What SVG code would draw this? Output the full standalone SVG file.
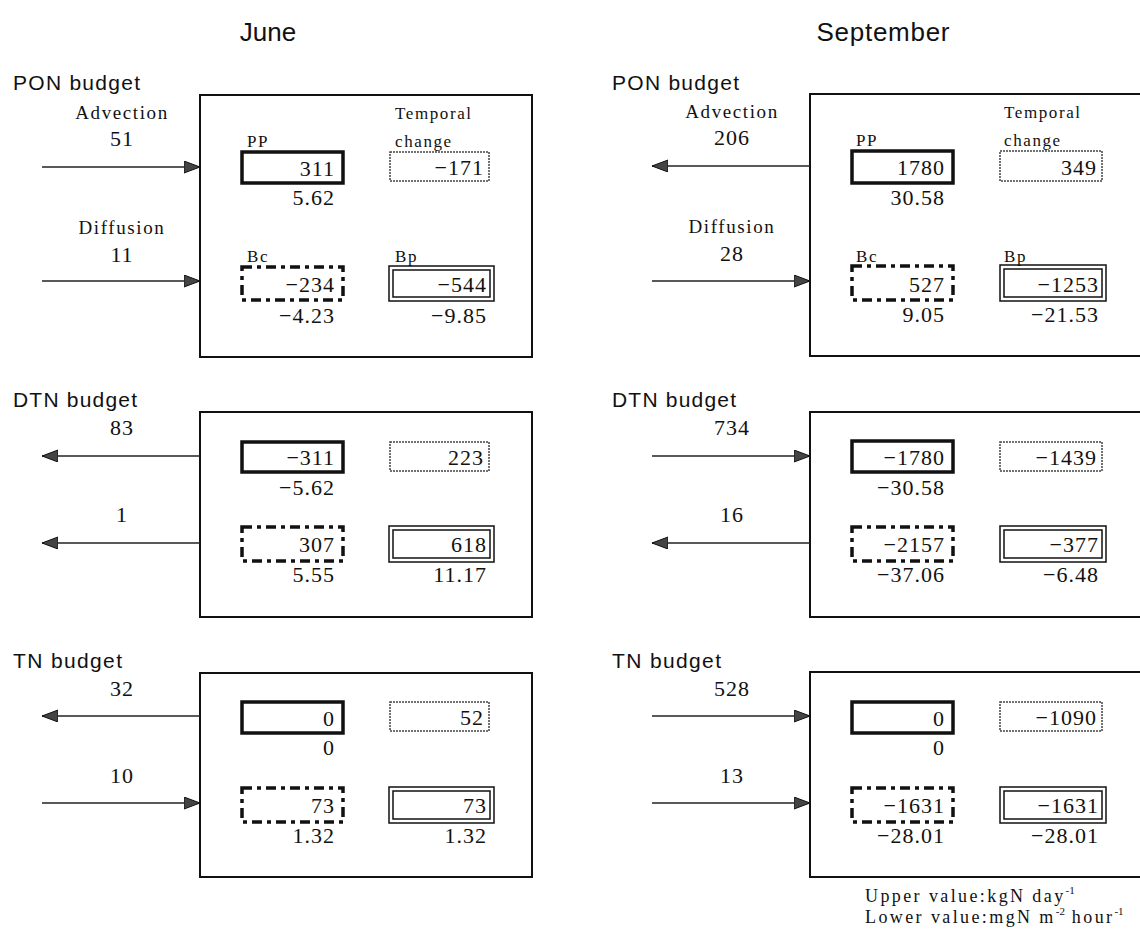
<svg xmlns="http://www.w3.org/2000/svg" width="1140" height="932" viewBox="0 0 1140 932">
<defs>
<marker id="ah" markerUnits="userSpaceOnUse" markerWidth="18" markerHeight="14" refX="16" refY="6" orient="auto">
<path d="M0,0 L16,6 L0,12 z" fill="#444" stroke="#111" stroke-width="1"/>
</marker>
<style>
.ttl{font-family:"Liberation Sans",Arial,sans-serif;font-size:26px;fill:#111}
.sec{font-family:"Liberation Sans",Arial,sans-serif;font-size:21px;fill:#111}
.lbl{font-family:"Liberation Serif","Times New Roman",serif;font-size:19px;letter-spacing:1.6px;fill:#111}
.sm{font-family:"Liberation Serif","Times New Roman",serif;font-size:17px;letter-spacing:1.6px;fill:#111}
.num{font-family:"Liberation Serif","Times New Roman",serif;font-size:22px;letter-spacing:1px;fill:#111}
.leg{font-family:"Liberation Serif","Times New Roman",serif;font-size:18px;letter-spacing:2.4px;fill:#111}
.sup{font-size:11px;letter-spacing:0}
.r{text-anchor:end}
.c{text-anchor:middle}
.panel{fill:none;stroke:#111;stroke-width:2}
.pp{fill:none;stroke:#111;stroke-width:3.5}
.tc{fill:none;stroke:#444;stroke-width:1.5;stroke-dasharray:2 1}
.bc{fill:none;stroke:#111;stroke-width:3.5;stroke-dasharray:10 5 4 5}
.bp{fill:none;stroke:#111;stroke-width:1.5}
.flow{fill:none;stroke:#222;stroke-width:1.6;marker-end:url(#ah)}
</style>
</defs>
<rect width="1140" height="932" fill="#fff"/>

<text class="ttl c" x="268" y="41">June</text>
<text class="ttl c" x="883" y="41" textLength="133" lengthAdjust="spacing">September</text>

<!-- June PON -->
<g id="june-pon">
<text class="sec" x="13" y="90" textLength="127" lengthAdjust="spacing">PON budget</text>
<rect class="panel" x="200" y="95" width="332" height="262"/>
<text class="lbl c" x="122" y="119">Advection</text>
<text class="num c" x="122" y="146">51</text>
<text class="lbl c" x="122" y="234">Diffusion</text>
<text class="num c" x="122" y="262">11</text>
<text class="sm" x="247" y="147">PP</text>
<text class="sm" x="395" y="119">Temporal</text>
<text class="sm" x="395" y="147">change</text>
<rect class="pp" x="242" y="152" width="101" height="31"/>
<text class="num r" x="335" y="176">311</text>
<text class="num r" x="335" y="205">5.62</text>
<rect class="tc" x="390" y="152" width="99" height="29"/>
<text class="num r" x="484" y="175">−171</text>
<text class="sm" x="247" y="262">Bc</text>
<text class="sm" x="395" y="262">Bp</text>
<rect class="bc" x="242" y="267" width="101" height="33"/>
<text class="num r" x="335" y="292">−234</text>
<text class="num r" x="335" y="323">−4.23</text>
<rect class="bp" x="389" y="266" width="105" height="35"/>
<rect class="bp" x="393" y="270" width="97" height="27"/>
<text class="num r" x="487" y="292">−544</text>
<text class="num r" x="487" y="323">−9.85</text>
</g>

<!-- June DTN -->
<g id="june-dtn">
<text class="sec" x="13" y="407" textLength="124" lengthAdjust="spacing">DTN budget</text>
<rect class="panel" x="200" y="412" width="332" height="205"/>
<text class="num c" x="122" y="435">83</text>
<text class="num c" x="122" y="522">1</text>
<rect class="pp" x="242" y="442" width="101" height="30"/>
<text class="num r" x="335" y="465">−311</text>
<text class="num r" x="335" y="495">−5.62</text>
<rect class="tc" x="390" y="442" width="99" height="29"/>
<text class="num r" x="484" y="465">223</text>
<rect class="bc" x="242" y="527" width="101" height="34"/>
<text class="num r" x="335" y="552">307</text>
<text class="num r" x="335" y="582">5.55</text>
<rect class="bp" x="389" y="526" width="105" height="36"/>
<rect class="bp" x="393" y="530" width="97" height="28"/>
<text class="num r" x="487" y="552">618</text>
<text class="num r" x="487" y="582">11.17</text>
</g>

<!-- June TN -->
<g id="june-tn">
<text class="sec" x="13" y="668" textLength="109" lengthAdjust="spacing">TN budget</text>
<rect class="panel" x="200" y="673" width="332" height="204"/>
<text class="num c" x="122" y="696">32</text>
<text class="num c" x="122" y="783">10</text>
<rect class="pp" x="242" y="702" width="101" height="31"/>
<text class="num r" x="335" y="726">0</text>
<text class="num r" x="335" y="755">0</text>
<rect class="tc" x="390" y="702" width="99" height="29"/>
<text class="num r" x="484" y="725">52</text>
<rect class="bc" x="242" y="788" width="101" height="34"/>
<text class="num r" x="335" y="813">73</text>
<text class="num r" x="335" y="843">1.32</text>
<rect class="bp" x="389" y="787" width="105" height="36"/>
<rect class="bp" x="393" y="791" width="97" height="28"/>
<text class="num r" x="487" y="813">73</text>
<text class="num r" x="487" y="843">1.32</text>
</g>

<!-- September PON -->
<g id="sep-pon">
<text class="sec" x="612" y="90" textLength="127" lengthAdjust="spacing">PON budget</text>
<rect class="panel" x="810" y="94" width="345" height="262"/>
<text class="lbl c" x="732" y="118">Advection</text>
<text class="num c" x="732" y="145">206</text>
<text class="lbl c" x="732" y="233">Diffusion</text>
<text class="num c" x="732" y="261">28</text>
<text class="sm" x="856" y="146">PP</text>
<text class="sm" x="1004" y="118">Temporal</text>
<text class="sm" x="1004" y="146">change</text>
<rect class="pp" x="852" y="151" width="101" height="32"/>
<text class="num r" x="945" y="175">1780</text>
<text class="num r" x="945" y="205">30.58</text>
<rect class="tc" x="1000" y="151" width="102" height="30"/>
<text class="num r" x="1097" y="175">349</text>
<text class="sm" x="856" y="262">Bc</text>
<text class="sm" x="1004" y="262">Bp</text>
<rect class="bc" x="852" y="266" width="101" height="34"/>
<text class="num r" x="945" y="292">527</text>
<text class="num r" x="945" y="322">9.05</text>
<rect class="bp" x="1000" y="265" width="106" height="36"/>
<rect class="bp" x="1004" y="269" width="98" height="28"/>
<text class="num r" x="1099" y="292">−1253</text>
<text class="num r" x="1099" y="322">−21.53</text>
</g>

<!-- September DTN -->
<g id="sep-dtn">
<text class="sec" x="612" y="407" textLength="124" lengthAdjust="spacing">DTN budget</text>
<rect class="panel" x="810" y="412" width="345" height="205"/>
<text class="num c" x="732" y="435">734</text>
<text class="num c" x="732" y="522">16</text>
<rect class="pp" x="852" y="441" width="101" height="31"/>
<text class="num r" x="945" y="465">−1780</text>
<text class="num r" x="945" y="495">−30.58</text>
<rect class="tc" x="1000" y="442" width="102" height="29"/>
<text class="num r" x="1097" y="465">−1439</text>
<rect class="bc" x="852" y="527" width="101" height="34"/>
<text class="num r" x="945" y="552">−2157</text>
<text class="num r" x="945" y="582">−37.06</text>
<rect class="bp" x="1000" y="526" width="106" height="36"/>
<rect class="bp" x="1004" y="530" width="98" height="28"/>
<text class="num r" x="1099" y="552">−377</text>
<text class="num r" x="1099" y="582">−6.48</text>
</g>

<!-- September TN -->
<g id="sep-tn">
<text class="sec" x="612" y="668" textLength="109" lengthAdjust="spacing">TN budget</text>
<rect class="panel" x="810" y="672" width="345" height="205"/>
<text class="num c" x="732" y="696">528</text>
<text class="num c" x="732" y="783">13</text>
<rect class="pp" x="852" y="702" width="101" height="31"/>
<text class="num r" x="945" y="726">0</text>
<text class="num r" x="945" y="755">0</text>
<rect class="tc" x="1000" y="702" width="102" height="29"/>
<text class="num r" x="1097" y="725">−1090</text>
<rect class="bc" x="852" y="788" width="101" height="34"/>
<text class="num r" x="945" y="813">−1631</text>
<text class="num r" x="945" y="843">−28.01</text>
<rect class="bp" x="1000" y="787" width="106" height="36"/>
<rect class="bp" x="1004" y="791" width="98" height="28"/>
<text class="num r" x="1099" y="813">−1631</text>
<text class="num r" x="1099" y="843">−28.01</text>
</g>

<g id="legend">
<text class="leg" x="865" y="902">Upper value:kgN day<tspan class="sup" dy="-8">-1</tspan></text>
<text class="leg" x="865" y="923">Lower value:mgN m<tspan class="sup" dy="-8">-2</tspan><tspan dy="8"> hour</tspan><tspan class="sup" dy="-8">-1</tspan></text>
</g>

<g id="connectors">
<line class="flow" x1="42" y1="167" x2="200" y2="167"/>
<line class="flow" x1="42" y1="281" x2="200" y2="281"/>
<line class="flow" x1="200" y1="456" x2="42" y2="456"/>
<line class="flow" x1="200" y1="543" x2="42" y2="543"/>
<line class="flow" x1="200" y1="716" x2="42" y2="716"/>
<line class="flow" x1="42" y1="803" x2="200" y2="803"/>
<line class="flow" x1="810" y1="166" x2="652" y2="166"/>
<line class="flow" x1="652" y1="281" x2="810" y2="281"/>
<line class="flow" x1="652" y1="456" x2="810" y2="456"/>
<line class="flow" x1="810" y1="543" x2="652" y2="543"/>
<line class="flow" x1="652" y1="716" x2="810" y2="716"/>
<line class="flow" x1="652" y1="803" x2="810" y2="803"/>
</g>
</svg>
